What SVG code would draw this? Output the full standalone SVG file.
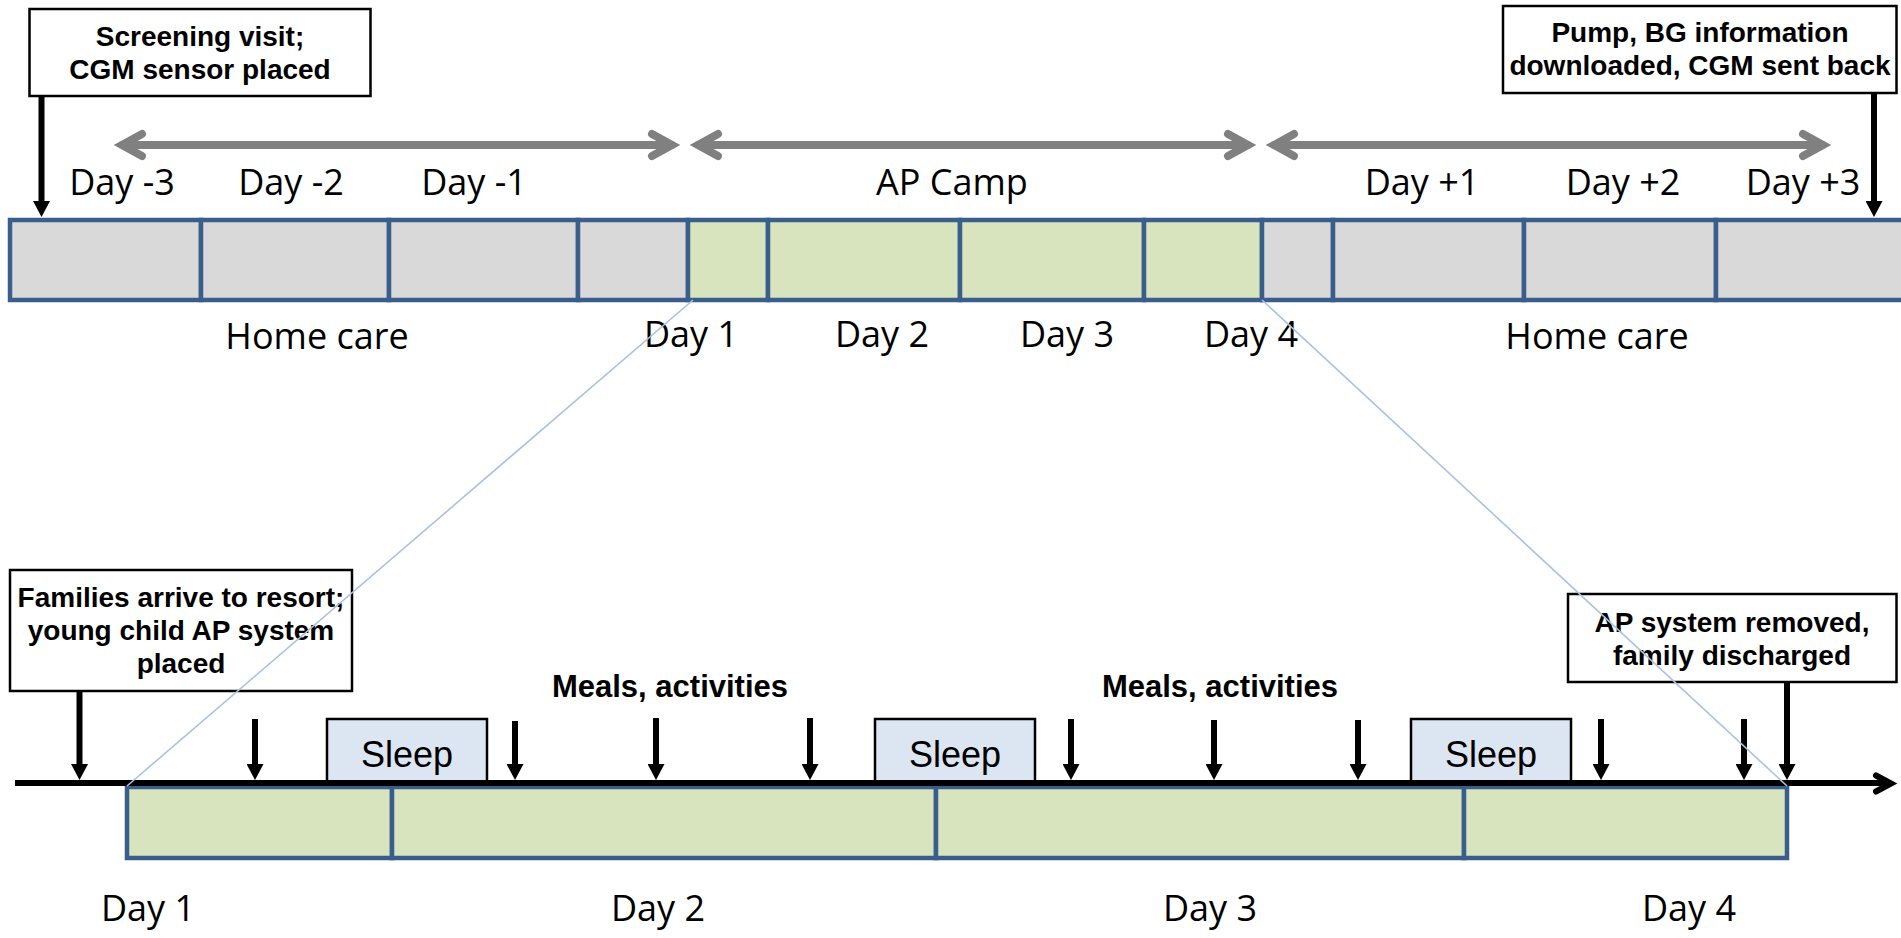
<svg xmlns="http://www.w3.org/2000/svg" width="1901" height="938" viewBox="0 0 1901 938">
  <defs>
    <style>
      .note rect { fill: #ffffff; stroke: #000000; stroke-width: 2.5; }
      .note text { font-family: "Liberation Sans", Arial, sans-serif; font-weight: bold; font-size: 28px; text-anchor: middle; fill: #000000; }
      .meals { font-family: "Liberation Sans", Arial, sans-serif; font-weight: bold; font-size: 31px; text-anchor: middle; fill: #000000; }
      .lbl { font-family: "Open Sans", Lato, sans-serif; font-size: 36px; text-anchor: middle; fill: #000000; }
      .cell { stroke: #3A5E8C; stroke-width: 4.5; }
      .home { fill: #D9D9D9; }
      .camp { fill: #D7E4BD; }
      .sleep rect { fill: #DCE6F2; stroke: #000000; stroke-width: 2.5; }
      .sleep text { font-family: "Liberation Sans", Arial, sans-serif; font-size: 36px; text-anchor: middle; fill: #000000; }
      .span { stroke: #808080; stroke-width: 8; fill: none; stroke-linecap: round; stroke-linejoin: miter; }
      .tick { stroke: #000000; stroke-width: 6; fill: none; marker-end: url(#head); }
      .axis { stroke: #000000; stroke-width: 6; fill: none; }
      .zoom { stroke: #A9C2E0; stroke-width: 1.6; fill: none; }
    </style>
    <marker id="head" markerUnits="userSpaceOnUse" viewBox="0 0 16 17" refX="3" refY="8.5" markerWidth="16" markerHeight="17" orient="auto">
      <path d="M0,0 L16,8.5 L0,17 Z" fill="#000000"/>
    </marker>
  </defs>

  <!-- overview bar: home care days around the camp -->
  <g id="overview-bar">
    <rect class="cell home" x="10" y="220" width="191" height="80"/>
    <rect class="cell home" x="201" y="220" width="188" height="80"/>
    <rect class="cell home" x="389" y="220" width="189" height="80"/>
    <rect class="cell home" x="578" y="220" width="110" height="80"/>
    <rect class="cell camp" x="688" y="220" width="80" height="80"/>
    <rect class="cell camp" x="768" y="220" width="192" height="80"/>
    <rect class="cell camp" x="960" y="220" width="184" height="80"/>
    <rect class="cell camp" x="1144" y="220" width="118" height="80"/>
    <rect class="cell home" x="1262" y="220" width="71" height="80"/>
    <rect class="cell home" x="1333" y="220" width="191" height="80"/>
    <rect class="cell home" x="1524" y="220" width="192" height="80"/>
    <rect class="cell home" x="1716" y="220" width="200" height="80"/>
  </g>

  <g id="overview-labels">
    <text class="lbl" x="122" y="195">Day -3</text>
    <text class="lbl" x="291" y="195">Day -2</text>
    <text class="lbl" x="474" y="195">Day -1</text>
    <text class="lbl" x="952" y="195">AP Camp</text>
    <text class="lbl" x="1422" y="195">Day +1</text>
    <text class="lbl" x="1623" y="195">Day +2</text>
    <text class="lbl" x="1803" y="195">Day +3</text>
    <text class="lbl" x="317" y="349">Home care</text>
    <text class="lbl" x="691" y="347">Day 1</text>
    <text class="lbl" x="882" y="347">Day 2</text>
    <text class="lbl" x="1067" y="347">Day 3</text>
    <text class="lbl" x="1251" y="347">Day 4</text>
    <text class="lbl" x="1597" y="349">Home care</text>
  </g>

  <g id="screening" class="note">
    <rect x="29.5" y="9" width="341" height="87"/>
    <text x="200" y="46">Screening visit;</text>
    <text x="200" y="79">CGM sensor placed</text>
  </g>

  <g id="download" class="note">
    <rect x="1503" y="6" width="393.5" height="87"/>
    <text x="1700" y="42">Pump, BG information</text>
    <text x="1700" y="75">downloaded, CGM sent back</text>
  </g>

  <!-- detailed camp timeline -->
  <g id="camp-bar">
    <rect class="cell camp" x="127" y="787" width="265" height="71"/>
    <rect class="cell camp" x="392" y="787" width="544" height="71"/>
    <rect class="cell camp" x="936" y="787" width="528" height="71"/>
    <rect class="cell camp" x="1464" y="787" width="323" height="71"/>
  </g>

  <g id="camp-labels">
    <text class="lbl" x="148" y="921">Day 1</text>
    <text class="lbl" x="658" y="921">Day 2</text>
    <text class="lbl" x="1210" y="921">Day 3</text>
    <text class="lbl" x="1689" y="921">Day 4</text>
  </g>

  <g id="sleep-1" class="sleep">
    <rect x="327" y="719" width="160" height="64"/>
    <text x="407" y="767">Sleep</text>
  </g>
  <g id="sleep-2" class="sleep">
    <rect x="875" y="719" width="160" height="64"/>
    <text x="955" y="767">Sleep</text>
  </g>
  <g id="sleep-3" class="sleep">
    <rect x="1411" y="719" width="160" height="64"/>
    <text x="1491" y="767">Sleep</text>
  </g>

  <g id="meals-1"><text class="meals" x="670" y="697">Meals, activities</text></g>
  <g id="meals-2"><text class="meals" x="1220" y="697">Meals, activities</text></g>

  <g id="arrival" class="note">
    <rect x="10" y="570" width="342" height="121"/>
    <text x="181" y="607">Families arrive to resort;</text>
    <text x="181" y="640">young child AP system</text>
    <text x="181" y="673">placed</text>
  </g>

  <g id="discharge" class="note">
    <rect x="1568" y="594" width="328.5" height="88"/>
    <text x="1732" y="632">AP system removed,</text>
    <text x="1732" y="665">family discharged</text>
  </g>

  <g id="connectors">
    <!-- period spans -->
    <path class="span" d="M122,145 H672 M142,134 L122,145 L142,156 M652,134 L672,145 L652,156"/>
    <path class="span" d="M698,145 H1248 M718,134 L698,145 L718,156 M1228,134 L1248,145 L1228,156"/>
    <path class="span" d="M1274,145 H1823 M1294,134 L1274,145 L1294,156 M1803,134 L1823,145 L1803,156"/>

    <!-- event arrows on the overview -->
    <line class="tick" x1="41.5" y1="96" x2="41.5" y2="204"/>
    <line class="tick" x1="1874" y1="93" x2="1874" y2="204"/>

    <!-- camp time axis -->
    <path class="axis" d="M15,783 H1890"/>
    <path class="axis" d="M1876,775.5 L1891,783.5 L1876,791.5" stroke-linecap="round" stroke-linejoin="miter"/>

    <!-- event arrows on the camp axis -->
    <line class="tick" x1="79.5" y1="691" x2="79.5" y2="767"/>
    <line class="tick" x1="255" y1="719" x2="255" y2="767"/>
    <line class="tick" x1="515" y1="721" x2="515" y2="767"/>
    <line class="tick" x1="656" y1="718" x2="656" y2="767"/>
    <line class="tick" x1="810" y1="718" x2="810" y2="767"/>
    <line class="tick" x1="1071" y1="719" x2="1071" y2="767"/>
    <line class="tick" x1="1214" y1="720" x2="1214" y2="767"/>
    <line class="tick" x1="1358" y1="720" x2="1358" y2="767"/>
    <line class="tick" x1="1601" y1="719" x2="1601" y2="767"/>
    <line class="tick" x1="1744" y1="719" x2="1744" y2="767"/>
    <line class="tick" x1="1787" y1="682" x2="1787" y2="767"/>

    <!-- projection of the camp days onto the detailed timeline -->
    <line class="zoom" x1="693" y1="300" x2="127" y2="786"/>
    <line class="zoom" x1="1262" y1="300" x2="1787" y2="786"/>
  </g>
</svg>
